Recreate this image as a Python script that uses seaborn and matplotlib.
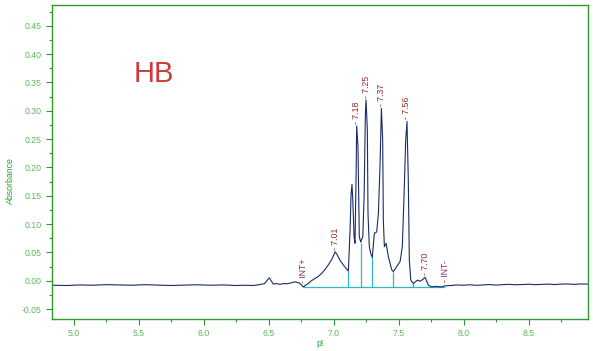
import numpy as np
import pandas as pd
import matplotlib
matplotlib.use("Agg")
import matplotlib.pyplot as plt
from matplotlib.ticker import MultipleLocator, FormatStrFormatter
import seaborn as sns

# ---------------- data ----------------
pi_values = [
    4.84, 4.95, 5.05, 5.15, 5.25, 5.35, 5.45, 5.55, 5.65, 5.75, 5.85, 5.95,
    6.05, 6.15, 6.25, 6.32, 6.38, 6.43, 6.47, 6.49, 6.506, 6.52, 6.537, 6.56,
    6.588, 6.615, 6.64, 6.67, 6.704, 6.737, 6.768, 6.79, 6.806, 6.83, 6.858,
    6.885, 6.909, 6.935, 6.960, 6.985, 7.005, 7.012, 7.025, 7.050, 7.075,
    7.095, 7.114, 7.127, 7.135, 7.142, 7.148, 7.158, 7.165, 7.173, 7.178,
    7.188, 7.198, 7.209, 7.225, 7.235, 7.245, 7.250, 7.260, 7.265, 7.275,
    7.286, 7.298, 7.314, 7.332, 7.345, 7.358, 7.368, 7.378, 7.383, 7.391,
    7.404, 7.422, 7.448, 7.460, 7.486, 7.512, 7.529, 7.542, 7.555, 7.565,
    7.575, 7.583, 7.594, 7.614, 7.645, 7.665, 7.685, 7.704, 7.729, 7.755,
    7.79, 7.83, 7.86, 7.90, 7.95, 8.0, 8.05, 8.1, 8.15, 8.2, 8.25, 8.3, 8.35,
    8.4, 8.45, 8.5, 8.55, 8.6, 8.65, 8.7, 8.75, 8.8, 8.85, 8.9, 8.955,
]
absorbance = [
    -0.008, -0.0085, -0.0075, -0.008, -0.007, -0.0075, -0.008, -0.007,
    -0.0078, -0.0085, -0.0078, -0.0072, -0.008, -0.0075, -0.0085, -0.008,
    -0.0085, -0.007, -0.005, 0.001, 0.005, 0.000, -0.006, -0.005, -0.0065,
    -0.005, -0.0055, -0.004, -0.002, -0.004, -0.011, -0.007, -0.005, 0.000,
    0.004, 0.008, 0.013, 0.020, 0.028, 0.037, 0.047, 0.051, 0.047, 0.036,
    0.028, 0.022, 0.017, 0.089, 0.154, 0.170, 0.142, 0.078, 0.066, 0.178,
    0.273, 0.236, 0.078, 0.068, 0.078, 0.148, 0.295, 0.319, 0.266, 0.119,
    0.060, 0.048, 0.041, 0.084, 0.086, 0.119, 0.207, 0.304, 0.248, 0.107,
    0.060, 0.066, 0.042, 0.019, 0.016, 0.025, 0.034, 0.060, 0.148, 0.248,
    0.281, 0.178, 0.036, 0.001, -0.005, 0.001, -0.001, 0.002, 0.006, -0.008,
    -0.011, -0.010, -0.011, -0.009, -0.0085, -0.0075, -0.008, -0.0072,
    -0.0082, -0.0075, -0.0068, -0.0078, -0.007, -0.0065, -0.0072, -0.0068,
    -0.0062, -0.007, -0.0065, -0.006, -0.0068, -0.006, -0.0058, -0.0065,
    -0.0058, -0.006,
]

# labelled peaks
peak_labels = ["7.01", "7.18", "7.25", "7.37", "7.56", "7.70"]
peak_x = [7.012, 7.178, 7.250, 7.368, 7.565, 7.704]
peak_y = [0.051, 0.273, 0.319, 0.304, 0.281, 0.006]

# integration markers
int_labels = ["INT+", "INT-"]
int_x = [6.768, 7.863]
int_y = [-0.011, -0.009]

# integration baseline and drop lines
baseline_x = [6.768, 7.86]
baseline_y = -0.011
drop_x = [7.114, 7.209, 7.298, 7.460, 7.614]
drop_top = [0.017, 0.067, 0.041, 0.016, -0.004]

x_ticks = [5.0, 5.5, 6.0, 6.5, 7.0, 7.5, 8.0, 8.5]
y_ticks = [-0.05, 0.00, 0.05, 0.10, 0.15, 0.20, 0.25, 0.30, 0.35, 0.40, 0.45]

# ---------------- style ----------------
sns.set_style("white")
plt.rcParams["font.family"] = ["Liberation Sans", "DejaVu Sans"]

SPINE = "#2e9a2e"
TICKLBL = "#5cb85c"
LINE = "#1b2a6b"
CYAN = "#2bb8c8"
PEAKC = "#9b2828"
INTC = "#862a78"

fig = plt.figure(figsize=(5.93, 3.51), dpi=100)
ax = fig.add_axes([51.7 / 593, 1 - 319 / 351, (587.7 - 51.7) / 593, (319 - 5.3) / 351])

df = pd.DataFrame({"pI": pi_values, "Absorbance": absorbance})
sns.lineplot(data=df, x="pI", y="Absorbance", sort=False, estimator=None,
             color=LINE, lw=0.8, ax=ax)

# integration baseline + drop lines
ax.hlines(baseline_y, baseline_x[0], baseline_x[1], color=CYAN, lw=0.9, zorder=1)
ax.vlines(drop_x, baseline_y, drop_top, color=CYAN, lw=0.9, zorder=1)

# peak labels
for lab, x, y in zip(peak_labels, peak_x, peak_y):
    ax.annotate("- " + lab, (x, y), xytext=(0, 1.5), textcoords="offset points",
                rotation=90, ha="center", va="bottom", fontsize=6.3, color=PEAKC)
for lab, x, y in zip(int_labels, int_x, int_y):
    ax.annotate("- " + lab, (x, y), xytext=(0, 3), textcoords="offset points",
                rotation=90, ha="center", va="bottom", fontsize=6.3, color=INTC)

ax.text(5.619, 0.365, "HB", fontsize=21, color="#cc3a3a", ha="center", va="center")

ax.set_xlim(4.832, 8.955)
ax.set_ylim(-0.0676, 0.486)
ax.set_xticks(x_ticks)
ax.set_yticks(y_ticks)
ax.xaxis.set_minor_locator(MultipleLocator(0.25))
ax.yaxis.set_minor_locator(MultipleLocator(0.025))
ax.xaxis.set_major_formatter(FormatStrFormatter("%.1f"))
ax.yaxis.set_major_formatter(FormatStrFormatter("%.2f"))
ax.tick_params(axis="both", which="major", direction="out", length=4, width=0.8,
               color=SPINE, labelcolor=TICKLBL, labelsize=6.3, pad=3)
ax.tick_params(axis="both", which="minor", direction="out", length=2.2, width=0.8,
               color=SPINE)
ax.tick_params(axis="x", which="both", bottom=True)
ax.tick_params(axis="y", which="both", left=True)
for s in ax.spines.values():
    s.set_color(SPINE)
    s.set_linewidth(1.0)
ax.set_xlabel("")
ax.set_ylabel("")

fig.text(10 / 593, 1 - 181 / 351, "Absorbance", rotation=90, ha="center",
         va="center", fontsize=6.3, color=SPINE)
fig.text(319.7 / 593, 1 - 344 / 351, "pI", ha="center", va="center",
         fontsize=6.3, color=SPINE)

fig.savefig("out.png", dpi=100)
